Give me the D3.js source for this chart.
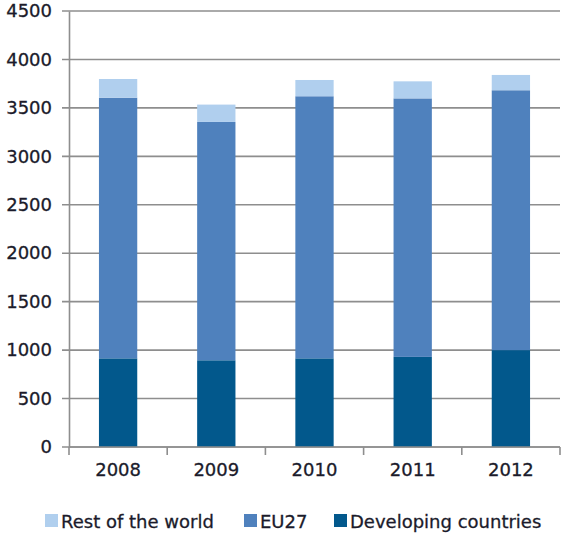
<!DOCTYPE html>
<html>
<head>
<meta charset="utf-8">
<script src="https://cdn.jsdelivr.net/npm/d3@7"></script>
<style>
  body { margin: 0; background: #fff; }
  svg text {
    font-family: "DejaVu Sans", Verdana, sans-serif;
    fill: #1b1b2b;
    stroke: #1b1b2b;
    stroke-width: 0.3px;
  }
</style>
</head>
<body>
<div id="chart"></div>
<script>
const years = ["2008", "2009", "2010", "2011", "2012"];
const developing = [915, 895, 915, 930, 1000];
const eu27 = [2690, 2460, 2705, 2668, 2682];
const restOfWorld = [193, 179, 168, 176, 158];
const yTicks = [0, 500, 1000, 1500, 2000, 2500, 3000, 3500, 4000, 4500];

const seriesNames = ["Developing countries", "EU27", "Rest of the world"];
const colors = {
  "Developing countries": "#02588c",
  "EU27": "#4f81bd",
  "Rest of the world": "#b0cfee",
};
const legendOrder = ["Rest of the world", "EU27", "Developing countries"];

const width = 567;
const height = 534;
const margin = { top: 11, right: 7, bottom: 87, left: 69 };

const rows = years.map((y, i) => ({
  year: y,
  "Developing countries": developing[i],
  "EU27": eu27[i],
  "Rest of the world": restOfWorld[i],
}));

const stack = d3.stack().keys(seriesNames)(rows);

const x = d3
  .scaleBand()
  .domain(years)
  .range([margin.left, width - margin.right])
  .paddingInner(0.61)
  .paddingOuter(0.305);
const xTicksScale = d3
  .scaleBand()
  .domain(years)
  .range([margin.left, width - margin.right]);

const y = d3
  .scaleLinear()
  .domain([0, 4500])
  .range([height - margin.bottom, margin.top]);

const svg = d3
  .select("#chart")
  .append("svg")
  .attr("width", width)
  .attr("height", height);

// gridlines
svg
  .append("g")
  .selectAll("line")
  .data(yTicks)
  .join("line")
  .attr("x1", margin.left - 7)
  .attr("x2", width - margin.right)
  .attr("y1", (d) => y(d))
  .attr("y2", (d) => y(d))
  .attr("stroke", "#8e8e8e")
  .attr("stroke-width", 1.6);

// bars
svg
  .append("g")
  .selectAll("g")
  .data(stack)
  .join("g")
  .attr("fill", (s) => colors[s.key])
  .selectAll("rect")
  .data((s) => s)
  .join("rect")
  .attr("x", (d) => x(d.data.year))
  .attr("width", x.bandwidth())
  .attr("y", (d) => y(d[1]))
  .attr("height", (d) => y(d[0]) - y(d[1]));

// y axis
const yAxis = svg
  .append("g")
  .attr("transform", `translate(${margin.left},0)`)
  .call(
    d3.axisLeft(y).tickValues(yTicks).tickFormat(d3.format("d")).tickSize(0).tickPadding(17)
  );
yAxis.select(".domain").attr("stroke", "#8e8e8e").attr("stroke-width", 1.6);
yAxis.selectAll("text").attr("font-size", 18);

// x axis
const xAxis = svg
  .append("g")
  .attr("transform", `translate(0,${y(0)})`)
  .call(d3.axisBottom(x).tickSize(0).tickPadding(16));
xAxis.select(".domain").remove();
xAxis.selectAll("text").attr("font-size", 18);

svg
  .append("line")
  .attr("x1", margin.left)
  .attr("x2", width - margin.right)
  .attr("y1", y(0))
  .attr("y2", y(0))
  .attr("stroke", "#8e8e8e")
  .attr("stroke-width", 1.6);

const boundaries = years.map((yr) => xTicksScale(yr)).concat([width - margin.right]);
svg
  .append("g")
  .selectAll("line")
  .data(boundaries)
  .join("line")
  .attr("x1", (d) => d)
  .attr("x2", (d) => d)
  .attr("y1", y(0))
  .attr("y2", y(0) + 8)
  .attr("stroke", "#8e8e8e")
  .attr("stroke-width", 1.6);

// legend
const legendX = [45, 244, 334];
const legend = svg
  .append("g")
  .selectAll("g")
  .data(legendOrder)
  .join("g")
  .attr("transform", (d, i) => `translate(${legendX[i]},522)`);
legend
  .append("rect")
  .attr("x", 0)
  .attr("y", -8)
  .attr("width", 13)
  .attr("height", 13)
  .attr("fill", (d) => colors[d]);
legend
  .append("text")
  .attr("x", 16)
  .attr("dy", "0.35em")
  .attr("font-size", 18)
  .text((d) => d);
</script>
</body>
</html>
